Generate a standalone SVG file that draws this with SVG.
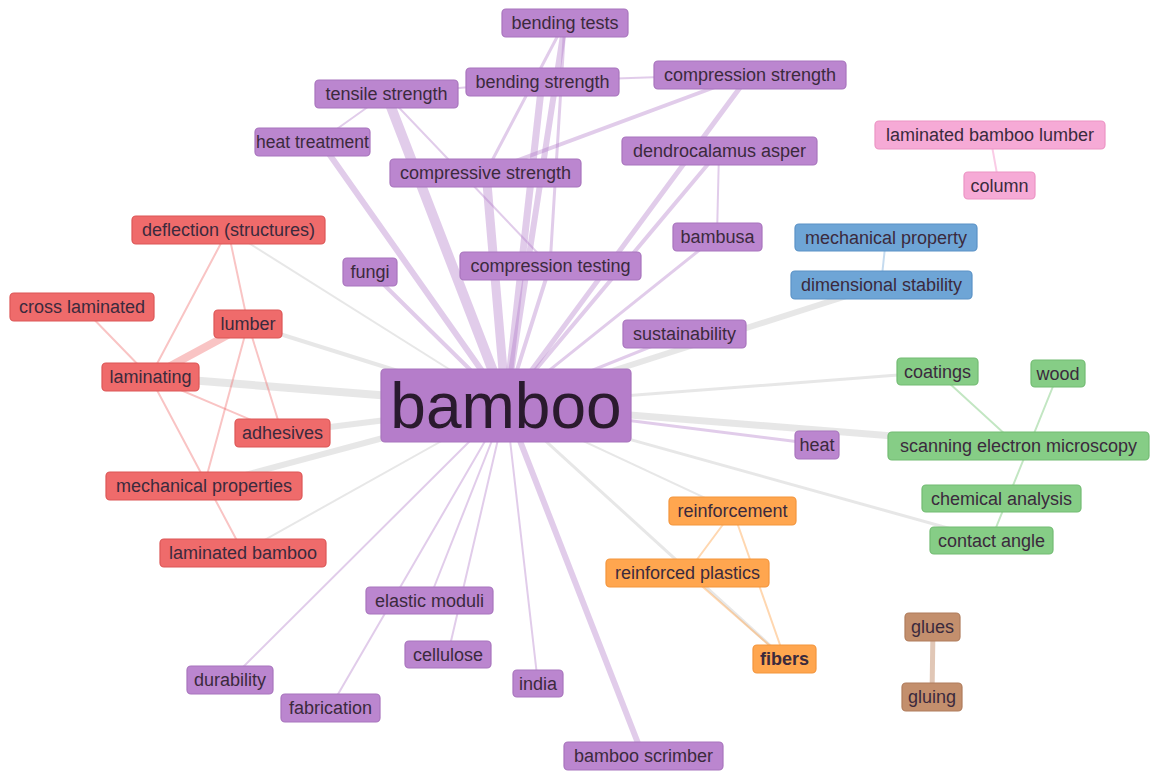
<svg xmlns="http://www.w3.org/2000/svg" width="1151" height="771" viewBox="0 0 1151 771">
<style>
.n rect{rx:4;ry:4;stroke-width:1.2}
.p rect{fill:#bb86cf;stroke:#a874bd}
.r rect{fill:#ef6b6b;stroke:#dc5656}
.k rect{fill:#f6aad6;stroke:#ec94c4}
.b rect{fill:#6ea5d6;stroke:#5a92c6}
.g rect{fill:#86cd86;stroke:#72bb72}
.o rect{fill:#ffa64f;stroke:#f3953c}
.w rect{fill:#c38f6d;stroke:#b07c5c}
.n text{font-family:"Liberation Sans",Arial,sans-serif;font-size:18px;fill:#3b2a3d;text-anchor:middle}
#edges line{stroke-linecap:round}
.ep{stroke:#b07ac8;stroke-opacity:0.38}
.eg{stroke:#c4c4c4;stroke-opacity:0.4}
.er{stroke:#ef6b6b;stroke-opacity:0.4}
.eo{stroke:#ffa64f;stroke-opacity:0.45}
.egr{stroke:#86cd86;stroke-opacity:0.5}
.eb{stroke:#6ea5d6;stroke-opacity:0.4}
.ek{stroke:#f6aad6;stroke-opacity:0.6}
.ew{stroke:#c38f6d;stroke-opacity:0.5}
</style>
<rect width="1151" height="771" fill="#ffffff"/>
<g id="edges">
<line class="ep" x1="506" y1="405" x2="386" y2="94" stroke-width="10"/>
<line class="ep" x1="506" y1="405" x2="542" y2="81" stroke-width="7"/>
<line class="ep" x1="506" y1="405" x2="565" y2="22" stroke-width="6"/>
<line class="ep" x1="506" y1="405" x2="486" y2="172" stroke-width="9"/>
<line class="ep" x1="506" y1="405" x2="320" y2="141" stroke-width="6"/>
<line class="ep" x1="506" y1="405" x2="750" y2="74" stroke-width="5"/>
<line class="ep" x1="506" y1="405" x2="550" y2="266" stroke-width="4"/>
<line class="ep" x1="506" y1="405" x2="719" y2="151" stroke-width="4"/>
<line class="ep" x1="506" y1="405" x2="717" y2="236" stroke-width="3"/>
<line class="ep" x1="506" y1="405" x2="370" y2="271" stroke-width="4"/>
<line class="ep" x1="506" y1="405" x2="685" y2="333" stroke-width="3"/>
<line class="ep" x1="506" y1="405" x2="816" y2="444" stroke-width="3"/>
<line class="ep" x1="506" y1="405" x2="643" y2="756" stroke-width="6"/>
<line class="ep" x1="506" y1="405" x2="429" y2="600" stroke-width="2"/>
<line class="ep" x1="506" y1="405" x2="448" y2="654" stroke-width="2"/>
<line class="ep" x1="506" y1="405" x2="538" y2="684" stroke-width="2"/>
<line class="ep" x1="506" y1="405" x2="230" y2="680" stroke-width="2"/>
<line class="ep" x1="506" y1="405" x2="330" y2="708" stroke-width="2"/>
<line class="ep" x1="386" y1="94" x2="542" y2="81" stroke-width="2"/>
<line class="ep" x1="542" y1="81" x2="750" y2="74" stroke-width="2"/>
<line class="ep" x1="386" y1="94" x2="320" y2="141" stroke-width="2"/>
<line class="ep" x1="386" y1="94" x2="550" y2="266" stroke-width="2"/>
<line class="ep" x1="486" y1="172" x2="750" y2="74" stroke-width="4"/>
<line class="ep" x1="565" y1="22" x2="486" y2="172" stroke-width="3"/>
<line class="ep" x1="565" y1="22" x2="550" y2="266" stroke-width="3"/>
<line class="ep" x1="719" y1="151" x2="717" y2="236" stroke-width="2"/>
<line class="eg" x1="506" y1="405" x2="150" y2="377" stroke-width="8"/>
<line class="eg" x1="506" y1="405" x2="282" y2="433" stroke-width="6"/>
<line class="eg" x1="506" y1="405" x2="204" y2="486" stroke-width="6"/>
<line class="eg" x1="506" y1="405" x2="248" y2="324" stroke-width="4"/>
<line class="eg" x1="506" y1="405" x2="228" y2="230" stroke-width="2"/>
<line class="eg" x1="506" y1="405" x2="243" y2="552" stroke-width="2"/>
<line class="eg" x1="506" y1="405" x2="881" y2="285" stroke-width="6"/>
<line class="eg" x1="506" y1="405" x2="937" y2="372" stroke-width="3"/>
<line class="eg" x1="506" y1="405" x2="1018" y2="446" stroke-width="7"/>
<line class="eg" x1="506" y1="405" x2="991" y2="540" stroke-width="3"/>
<line class="eg" x1="506" y1="405" x2="733" y2="511" stroke-width="2"/>
<line class="eg" x1="506" y1="405" x2="785" y2="659" stroke-width="3"/>
<line class="er" x1="150" y1="377" x2="248" y2="324" stroke-width="8" stroke-opacity="0.3"/>
<line class="er" x1="228" y1="230" x2="150" y2="377" stroke-width="2"/>
<line class="er" x1="228" y1="230" x2="248" y2="324" stroke-width="2"/>
<line class="er" x1="82" y1="307" x2="150" y2="377" stroke-width="2"/>
<line class="er" x1="150" y1="377" x2="243" y2="552" stroke-width="2"/>
<line class="er" x1="150" y1="377" x2="282" y2="433" stroke-width="2"/>
<line class="er" x1="248" y1="324" x2="282" y2="433" stroke-width="2"/>
<line class="er" x1="248" y1="324" x2="204" y2="486" stroke-width="2"/>
<line class="egr" x1="937" y1="372" x2="1018" y2="446" stroke-width="2"/>
<line class="egr" x1="1058" y1="374" x2="991" y2="540" stroke-width="2"/>
<line class="eo" x1="733" y1="511" x2="687" y2="573" stroke-width="2"/>
<line class="eo" x1="733" y1="511" x2="785" y2="659" stroke-width="2"/>
<line class="eo" x1="687" y1="573" x2="785" y2="659" stroke-width="2"/>
<line class="eb" x1="886" y1="238" x2="881" y2="285" stroke-width="2"/>
<line class="ek" x1="990" y1="135" x2="999" y2="185" stroke-width="2"/>
<line class="ew" x1="933" y1="627" x2="932" y2="697" stroke-width="5"/>
</g>
<g id="n-bamboo" class="n p"><rect x="381" y="369" width="250" height="73" style="fill:#b57dca"/><text x="506" y="428" style="font-size:64px;fill:#2a1a2e">bamboo</text></g>
<g id="n-bending-tests" class="n p"><rect x="502" y="9" width="126" height="28"/><text x="565" y="29">bending tests</text></g>
<g id="n-bending-strength" class="n p"><rect x="466" y="68" width="153" height="28"/><text x="542.5" y="88">bending strength</text></g>
<g id="n-tensile-strength" class="n p"><rect x="315" y="80" width="143" height="28"/><text x="386.5" y="100">tensile strength</text></g>
<g id="n-compression-strength" class="n p"><rect x="654" y="61" width="192" height="28"/><text x="750" y="81">compression strength</text></g>
<g id="n-heat-treatment" class="n p"><rect x="255" y="128" width="115" height="28"/><text x="312.5" y="148" style="font-size:17.5px">heat treatment</text></g>
<g id="n-compressive-strength" class="n p"><rect x="390" y="159" width="191" height="28"/><text x="485.5" y="179">compressive strength</text></g>
<g id="n-dendrocalamus-asper" class="n p"><rect x="622" y="137" width="195" height="28"/><text x="719.5" y="157">dendrocalamus asper</text></g>
<g id="n-bambusa" class="n p"><rect x="673" y="223" width="89" height="28"/><text x="717.5" y="243">bambusa</text></g>
<g id="n-compression-testing" class="n p"><rect x="460" y="252" width="181" height="28"/><text x="550.5" y="272">compression testing</text></g>
<g id="n-fungi" class="n p"><rect x="343" y="258" width="54" height="28"/><text x="370" y="278">fungi</text></g>
<g id="n-sustainability" class="n p"><rect x="623" y="320" width="123" height="28"/><text x="684.5" y="340">sustainability</text></g>
<g id="n-heat" class="n p"><rect x="795" y="431" width="44" height="28"/><text x="817" y="451">heat</text></g>
<g id="n-elastic-moduli" class="n p"><rect x="366" y="587" width="127" height="27"/><text x="429.5" y="607">elastic moduli</text></g>
<g id="n-cellulose" class="n p"><rect x="405" y="641" width="86" height="27"/><text x="448" y="661">cellulose</text></g>
<g id="n-india" class="n p"><rect x="513" y="670" width="50" height="27"/><text x="538" y="690">india</text></g>
<g id="n-durability" class="n p"><rect x="187" y="666" width="86" height="28"/><text x="230" y="686">durability</text></g>
<g id="n-fabrication" class="n p"><rect x="281" y="694" width="99" height="28"/><text x="330.5" y="714">fabrication</text></g>
<g id="n-bamboo-scrimber" class="n p"><rect x="564" y="742" width="159" height="28"/><text x="643.5" y="762">bamboo scrimber</text></g>
<g id="n-deflection" class="n r"><rect x="132" y="216" width="193" height="28"/><text x="228.5" y="236">deflection (structures)</text></g>
<g id="n-cross-laminated" class="n r"><rect x="10" y="293" width="144" height="28"/><text x="82" y="313">cross laminated</text></g>
<g id="n-lumber" class="n r"><rect x="214" y="310" width="68" height="28"/><text x="248" y="330">lumber</text></g>
<g id="n-laminating" class="n r"><rect x="102" y="363" width="97" height="28"/><text x="150.5" y="383">laminating</text></g>
<g id="n-adhesives" class="n r"><rect x="235" y="419" width="95" height="28"/><text x="282.5" y="439">adhesives</text></g>
<g id="n-mechanical-properties" class="n r"><rect x="106" y="472" width="196" height="28"/><text x="204" y="492">mechanical properties</text></g>
<g id="n-laminated-bamboo" class="n r"><rect x="160" y="539" width="166" height="28"/><text x="243" y="559">laminated bamboo</text></g>
<g id="n-laminated-bamboo-lumber" class="n k"><rect x="875" y="121" width="230" height="28"/><text x="990" y="141">laminated bamboo lumber</text></g>
<g id="n-column" class="n k"><rect x="964" y="172" width="71" height="27"/><text x="999.5" y="192">column</text></g>
<g id="n-mechanical-property" class="n b"><rect x="795" y="224" width="182" height="27"/><text x="886" y="244">mechanical property</text></g>
<g id="n-dimensional-stability" class="n b"><rect x="791" y="271" width="181" height="28"/><text x="881.5" y="291">dimensional stability</text></g>
<g id="n-coatings" class="n g"><rect x="897" y="358" width="81" height="27"/><text x="937.5" y="378">coatings</text></g>
<g id="n-wood" class="n g"><rect x="1031" y="360" width="54" height="27"/><text x="1058" y="380">wood</text></g>
<g id="n-sem" class="n g"><rect x="888" y="432" width="261" height="28"/><text x="1018.5" y="452">scanning electron microscopy</text></g>
<g id="n-chemical-analysis" class="n g"><rect x="922" y="485" width="159" height="27"/><text x="1001.5" y="505">chemical analysis</text></g>
<g id="n-contact-angle" class="n g"><rect x="930" y="527" width="123" height="27"/><text x="991.5" y="547">contact angle</text></g>
<g id="n-reinforcement" class="n o"><rect x="669" y="497" width="127" height="28"/><text x="732.5" y="517">reinforcement</text></g>
<g id="n-reinforced-plastics" class="n o"><rect x="606" y="559" width="163" height="28"/><text x="687.5" y="579">reinforced plastics</text></g>
<g id="n-fibers" class="n o"><rect x="753" y="645" width="63" height="28"/><text x="784.5" y="665" style="font-weight:bold">fibers</text></g>
<g id="n-glues" class="n w"><rect x="905" y="613" width="55" height="28"/><text x="932.5" y="633">glues</text></g>
<g id="n-gluing" class="n w"><rect x="902" y="683" width="60" height="28"/><text x="932" y="703">gluing</text></g>
</svg>
